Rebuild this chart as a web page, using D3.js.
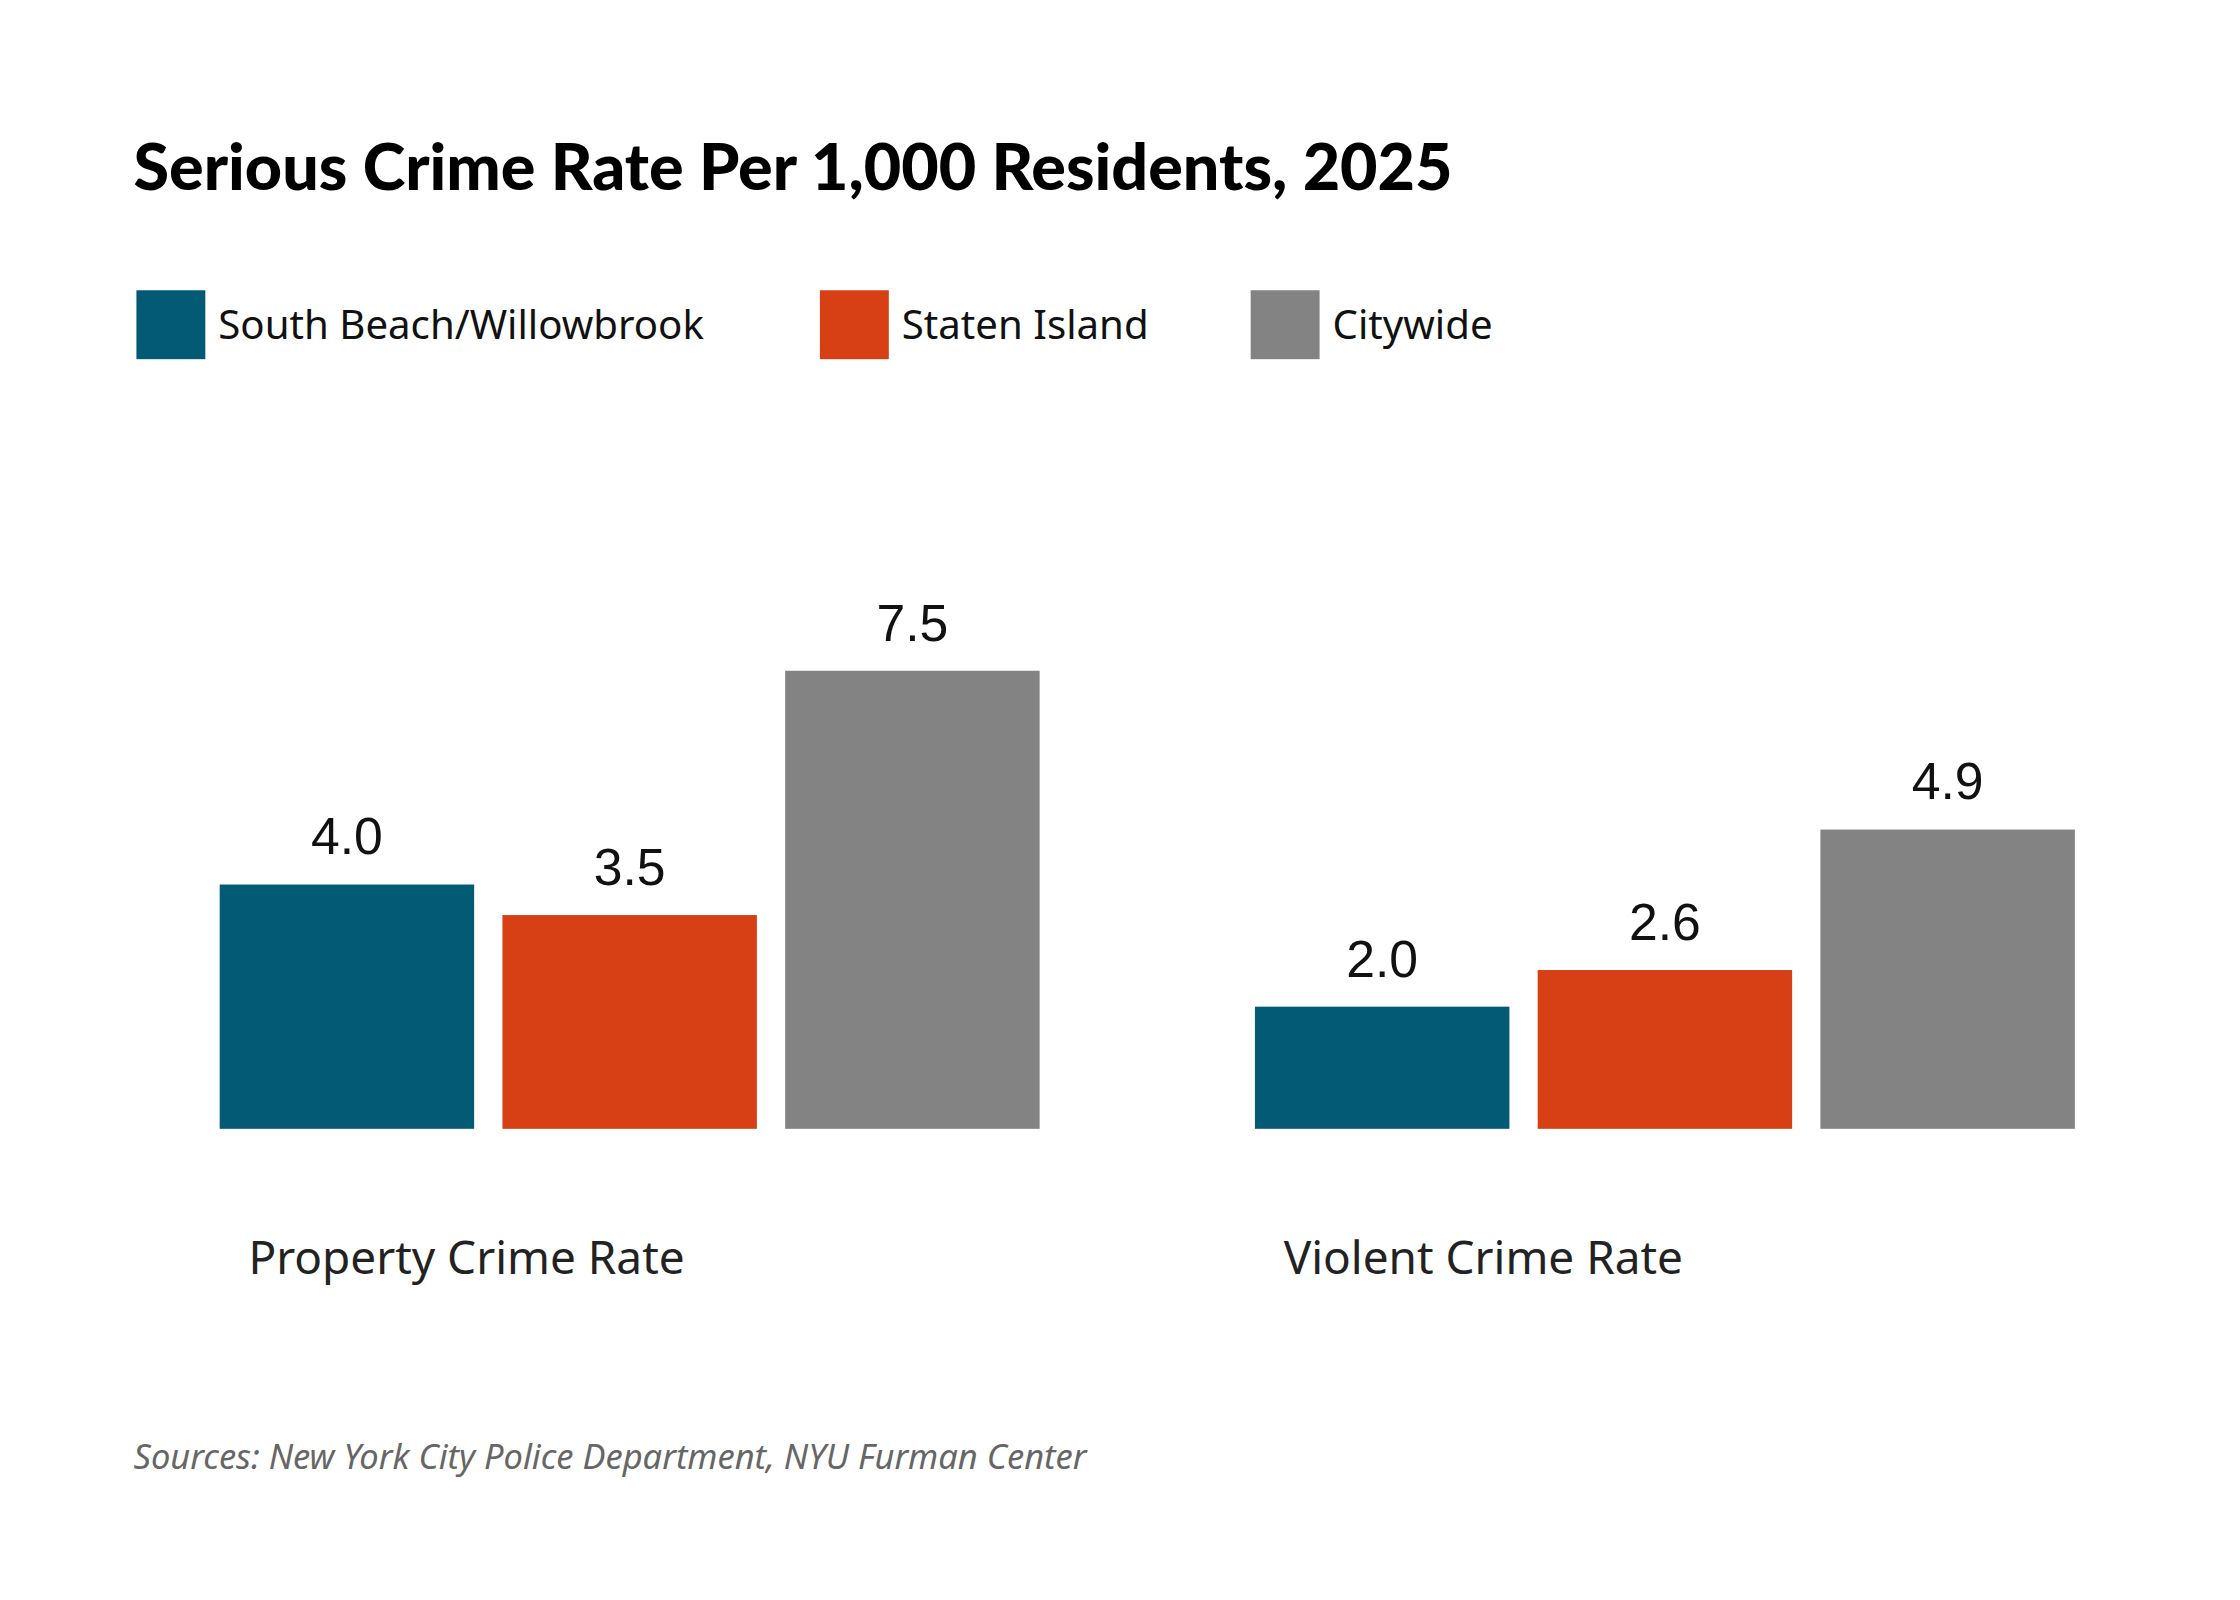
<!DOCTYPE html>
<html>
<head>
<meta charset="utf-8">
<script src="https://cdn.jsdelivr.net/npm/d3@7"></script>
<style>
  body { margin: 0; background: #fff; }
  svg { display: block; }
</style>
</head>
<body>
<div id="chart"></div>
<script>
// data
var categories = ["Property Crime Rate", "Violent Crime Rate"];
var seriesNames = ["South Beach/Willowbrook", "Staten Island", "Citywide"];
var colors = ["#035a74", "#d64014", "#838384"];
var values = {
  "South Beach/Willowbrook": [4.0, 2.0],
  "Staten Island": [3.5, 2.6],
  "Citywide": [7.5, 4.9]
};

// working in a 1560-wide layout, scaled up to the window
const W = 1560, H = 1114;
const svg = d3.select("#chart").append("svg")
    .attr("width", 2240)
    .attr("height", 1600)
    .attr("viewBox", `0 0 ${W} ${H}`);

svg.append("text")
    .attr("x", 93).attr("y", 132)
    .attr("font-family", "Lato, 'Noto Sans', sans-serif")
    .attr("font-weight", 900)
    .attr("font-size", 45)
    .attr("fill", "#000")
    .text("Serious Crime Rate Per 1,000 Residents, 2025");

// legend
var legendX = [95, 571, 871];
const legend = svg.append("g").selectAll("g")
  .data(seriesNames)
  .join("g")
    .attr("transform", (d, i) => `translate(${legendX[i]},202)`);
legend.append("rect")
    .attr("width", 48).attr("height", 48)
    .attr("fill", (d, i) => colors[i]);
legend.append("text")
    .attr("x", 57).attr("y", 34)
    .attr("font-family", "'Noto Sans', sans-serif")
    .attr("font-size", 28)
    .attr("fill", "#111")
    .text(d => d);

const baseline = 786;
const y = d3.scaleLinear().domain([0, 7.5]).range([baseline, 467]);
const x0 = d3.scaleBand().domain(categories).range([153, 1445]).paddingInner(0.208);
const x1 = d3.scaleBand().domain(seriesNames).range([0, x0.bandwidth()]).paddingInner(0.1);

const groups = svg.append("g").selectAll("g")
  .data(categories)
  .join("g")
    .attr("transform", d => `translate(${x0(d)},0)`);

const bars = groups.selectAll("g")
  .data((c, ci) => seriesNames.map((s, si) => ({s: s, si: si, v: values[s][ci]})))
  .join("g");

bars.append("rect")
    .attr("x", d => x1(d.s))
    .attr("y", d => y(d.v))
    .attr("width", x1.bandwidth())
    .attr("height", d => baseline - y(d.v))
    .attr("fill", d => colors[d.si]);

bars.append("text")
    .attr("x", d => x1(d.s) + x1.bandwidth() / 2)
    .attr("y", d => y(d.v) - 21)
    .attr("text-anchor", "middle")
    .attr("font-family", "'Liberation Sans', Arial, sans-serif")
    .attr("font-size", 36)
    .attr("fill", "#111")
    .text(d => d.v.toFixed(1));

groups.append("text")
    .attr("x", 20)
    .attr("y", 887)
    .attr("font-family", "'Noto Sans', sans-serif")
    .attr("font-size", 32)
    .attr("fill", "#222")
    .text(d => d);

svg.append("text")
    .attr("x", 93).attr("y", 1023)
    .attr("font-family", "'Noto Sans', sans-serif")
    .attr("font-style", "italic")
    .attr("font-size", 24)
    .attr("fill", "#666")
    .text("Sources: New York City Police Department, NYU Furman Center");
</script>
</body>
</html>
